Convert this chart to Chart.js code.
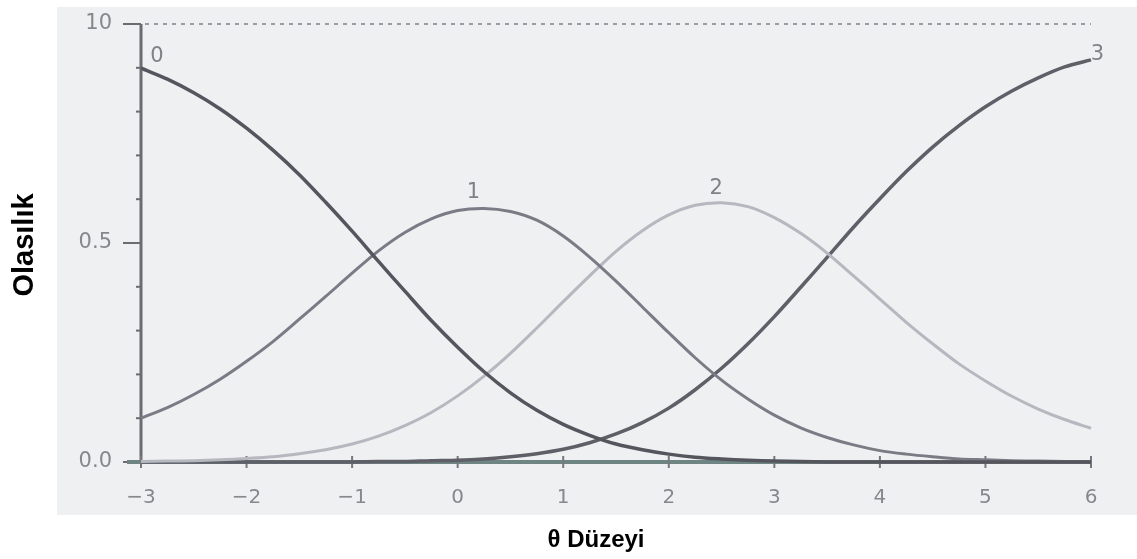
<!DOCTYPE html>
<html>
<head>
<meta charset="utf-8">
<script src="https://cdn.jsdelivr.net/npm/chart.js@4"></script>
<style>
  html, body { margin: 0; padding: 0; background: #fff; }
  #wrap { width: 1137px; height: 559px; }
</style>
</head>
<body>
<div id="wrap"><canvas id="irtChart" width="1137" height="559"></canvas></div>
<script>
// theta levels (x) and category probabilities
const theta = [-3, -2.75, -2.5, -2.25, -2, -1.75, -1.5, -1.25, -1, -0.75, -0.5, -0.25,
  0, 0.25, 0.5, 0.75, 1, 1.25, 1.5, 1.75, 2, 2.25, 2.5, 2.75, 3, 3.25, 3.5, 3.75,
  4, 4.25, 4.5, 4.75, 5, 5.25, 5.5, 5.75, 6];
const cat0 = [.899, .874, .843, .806, .762, .712, .656, .593, .527, .458, .390, .323,
  .262, .206, .158, .118, .086, .061, .041, .028, .018, .011, .007, .004, .002, .001,
  0, 0, 0, 0, 0, 0, 0, 0, 0, 0, 0];
const cat1 = [.100, .124, .154, .189, .230, .275, .326, .378, .431, .482, .524, .555,
  .574, .579, .572, .552, .516, .468, .413, .354, .295, .238, .187, .144, .107, .078,
  .056, .039, .026, .018, .012, .007, .005, .003, .002, .001, .001];
const cat2 = [.001, .002, .003, .005, .008, .012, .019, .028, .041, .059, .083, .113,
  .151, .196, .248, .306, .366, .425, .481, .528, .564, .586, .592, .583, .558, .522,
  .477, .425, .372, .319, .270, .224, .185, .150, .121, .097, .077];
const cat3 = [0, 0, 0, 0, 0, 0, 0, 0, 0, .001, .001, .003,
  .004, .007, .012, .019, .029, .044, .064, .090, .123, .165, .214, .270, .332, .399,
  .467, .536, .601, .663, .719, .768, .811, .847, .877, .902, .918];

const categories = ['0', '1', '2', '3'];
const catLabelPos = [[-2.85, 0.925], [0.15, 0.615], [2.45, 0.625], [6.06, 0.93]];
const xTickLabels = ['\u22123', '\u22122', '\u22121', '0', '1', '2', '3', '4', '5', '6'];
const yTickLabels = ['0.0', '0.5', '10'];

const series = [cat0, cat1, cat2, cat3];
const colors = ['#55555e', '#7b7b85', '#b7b7bf', '#5f5f68'];
const widths = [3.5, 3, 3, 3.5];

const tickFont = { family: 'DejaVu Sans', size: 20 };
const tickColor = '#88888c';

const scanPlugin = {
  id: 'scanPlugin',
  beforeDraw(chart) {
    const { ctx } = chart;
    ctx.save();
    ctx.fillStyle = '#ffffff';
    ctx.fillRect(0, 0, chart.width, chart.height);
    // scanned page area
    ctx.fillStyle = '#eef0f2';
    ctx.fillRect(57, 7, chart.width - 57, 508);
    ctx.restore();
  },
  beforeDatasetsDraw(chart) {
    const { ctx } = chart;
    const xs = chart.scales.x, ys = chart.scales.y;
    const x0 = xs.getPixelForValue(-3);
    const y0 = ys.getPixelForValue(0);
    const y1 = ys.getPixelForValue(1);
    ctx.save();
    // dotted line at 1.0
    ctx.strokeStyle = '#9c9ca2';
    ctx.lineWidth = 2;
    ctx.setLineDash([4, 5]);
    ctx.beginPath();
    ctx.moveTo(x0 + 4, y1);
    ctx.lineTo(xs.getPixelForValue(6), y1);
    ctx.stroke();
    ctx.setLineDash([]);

    // y axis and its ticks
    ctx.strokeStyle = '#6b6b70';
    ctx.lineWidth = 3;
    ctx.beginPath();
    ctx.moveTo(x0, y1);
    ctx.lineTo(x0, y0);
    ctx.stroke();
    ctx.lineWidth = 2;
    for (let i = 0; i <= 10; i++) {
      const y = ys.getPixelForValue(i / 10);
      const len = (i % 5 === 0) ? 18 : 5;
      ctx.beginPath();
      ctx.moveTo(x0 - len, y);
      ctx.lineTo(x0, y);
      ctx.stroke();
    }

    // x axis and its ticks
    ctx.strokeStyle = '#6f8584';
    ctx.lineWidth = 4;
    ctx.beginPath();
    ctx.moveTo(x0 - 14, y0);
    ctx.lineTo(xs.getPixelForValue(6) + 1, y0);
    ctx.stroke();
    ctx.strokeStyle = '#77777c';
    ctx.lineWidth = 2;
    for (let v = -3; v <= 6; v++) {
      const x = xs.getPixelForValue(v);
      ctx.beginPath();
      ctx.moveTo(x, y0 - 6);
      ctx.lineTo(x, y0 + 6);
      ctx.stroke();
    }
    ctx.restore();
  },
  afterDatasetsDraw(chart) {
    const { ctx } = chart;
    const xs = chart.scales.x, ys = chart.scales.y;
    ctx.save();
    // curve labels
    ctx.font = '21px DejaVu Sans';
    ctx.fillStyle = '#808086';
    ctx.textAlign = 'center';
    ctx.textBaseline = 'middle';
    categories.forEach((c, i) => {
      ctx.fillText(c, xs.getPixelForValue(catLabelPos[i][0]), ys.getPixelForValue(catLabelPos[i][1]));
    });

    // axis titles
    ctx.fillStyle = '#000';
    ctx.font = 'bold 24px Liberation Sans';
    ctx.textBaseline = 'alphabetic';
    ctx.fillText('\u03b8 D\u00fczeyi', 596, 547);
    ctx.translate(33, 245);
    ctx.rotate(-Math.PI / 2);
    ctx.font = 'bold 29px Liberation Sans';
    ctx.fillText('Olas\u0131l\u0131k', 0, 0);
    ctx.restore();
  }
};

new Chart(document.getElementById('irtChart'), {
  type: 'line',
  data: {
    datasets: series.map((s, i) => ({
      label: categories[i],
      data: theta.map((t, j) => ({ x: t, y: s[j] })),
      borderColor: colors[i],
      borderWidth: widths[i],
      pointRadius: 0,
      tension: 0.3,
      fill: false,
      clip: 6,
    })),
  },
  options: {
    responsive: false,
    animation: false,
    devicePixelRatio: 1,
    layout: { padding: { left: 0, top: 24, right: 46, bottom: 0 } },
    plugins: {
      legend: { display: false },
      title: { display: false },
      tooltip: { enabled: false },
    },
    scales: {
      x: {
        type: 'linear',
        min: -3,
        max: 6,
        grid: { display: false, drawTicks: false },
        border: { display: false },
        ticks: {
          stepSize: 1,
          padding: 24,
          font: tickFont,
          color: tickColor,
          maxRotation: 0,
          callback: (v) => xTickLabels[Math.round(v) + 3],
        },
        afterFit(scale) {
          scale.height = 97;
          scale.paddingLeft = 0;
          scale.paddingRight = 0;
        },
      },
      y: {
        min: 0,
        max: 1,
        grid: { display: false, drawTicks: false },
        border: { display: false },
        ticks: {
          stepSize: 0.5,
          padding: 29,
          font: { family: 'DejaVu Sans', size: 21 },
          color: tickColor,
          callback: (v) => yTickLabels[Math.round(v * 2)],
        },
        afterFit(scale) {
          scale.width = 141;
          scale.paddingTop = 0;
          scale.paddingBottom = 0;
        },
      },
    },
  },
  plugins: [scanPlugin],
});
</script>
</body>
</html>
